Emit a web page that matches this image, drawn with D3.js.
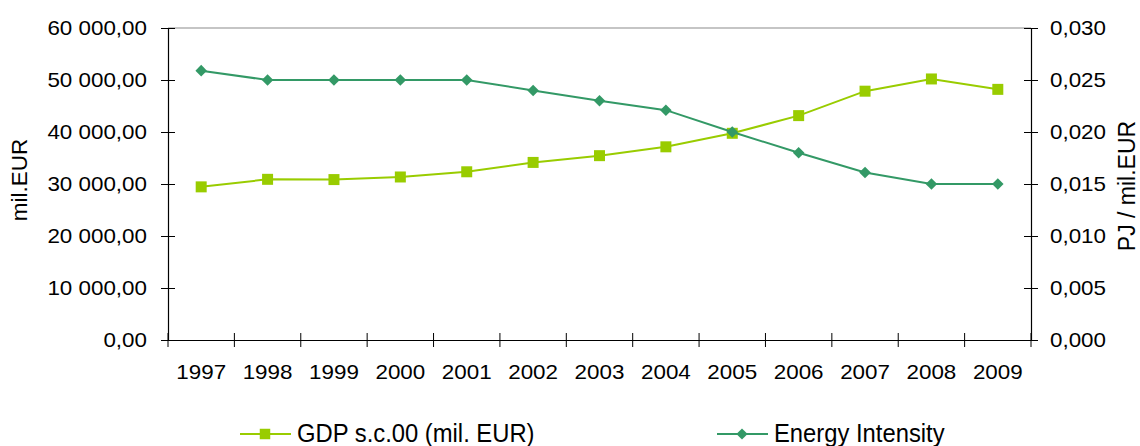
<!DOCTYPE html>
<html>
<head>
<meta charset="utf-8">
<script src="https://cdn.jsdelivr.net/npm/d3@7"></script>
<style>
  body { margin: 0; background: #fff; }
  text { font-family: "Liberation Sans", Arial, sans-serif; }
</style>
</head>
<body>
<script>
// data
const years = ["1997", "1998", "1999", "2000", "2001", "2002", "2003",
  "2004", "2005", "2006", "2007", "2008", "2009"];
const gdp = [29450, 30900, 30850, 31350, 32350, 34150, 35450,
  37150, 39750, 43150, 47850, 50200, 48200];
const intensity = [0.0259, 0.025, 0.025, 0.025, 0.025, 0.024, 0.023,
  0.0221, 0.020, 0.018, 0.0161, 0.015, 0.015];
const leftTicks = [0, 10000, 20000, 30000, 40000, 50000, 60000];
const rightTicks = [0, 0.005, 0.01, 0.015, 0.02, 0.025, 0.03];

const W = 1140, H = 446;
const plot = { left: 168, right: 1031, top: 28, bottom: 340 };
const gdpColor = "#99cc00";
const eiColor = "#339966";
const tickFont = 20;
const stretch = 1.12; // the reference glyphs are a bit wide

const loc = d3.formatLocale({ decimal: ",", thousands: " ", grouping: [3], currency: ["", ""] });
const fmtLeft = loc.format(",.2f");
const fmtRight = loc.format(".3f");

const svg = d3.select("body").append("svg")
  .attr("width", W)
  .attr("height", H);

const x = d3.scaleBand().domain(years).range([plot.left, plot.right]);
const yL = d3.scaleLinear().domain([0, 60000]).range([plot.bottom, plot.top]);
const yR = d3.scaleLinear().domain([0, 0.03]).range([plot.bottom, plot.top]);

// top border of the plot area
svg.append("line")
  .attr("x1", plot.left).attr("x2", plot.right)
  .attr("y1", plot.top).attr("y2", plot.top)
  .attr("stroke", "#8c8c8c").attr("stroke-width", 1.2);

// left axis
const axL = svg.append("g")
  .attr("transform", `translate(${plot.left},0)`)
  .call(d3.axisLeft(yL).tickValues(leftTicks).tickFormat(fmtLeft).tickSizeOuter(0).tickSize(7).tickPadding(14));
axL.selectAll(".tick line").attr("x1", 7).attr("x2", -7);

// right axis
const axR = svg.append("g")
  .attr("transform", `translate(${plot.right},0)`)
  .call(d3.axisRight(yR).tickValues(rightTicks).tickFormat(fmtRight).tickSizeOuter(0).tickSize(7).tickPadding(12));
axR.selectAll(".tick line").attr("x1", -7).attr("x2", 7);

// bottom axis: labels at band centres, ticks at band edges
const axB = svg.append("g")
  .attr("transform", `translate(0,${plot.bottom})`)
  .call(d3.axisBottom(x).tickSize(0).tickSizeOuter(0).tickPadding(25));
axB.selectAll(".tick line").remove();
const edges = d3.range(years.length + 1).map((i) => plot.left + i * x.step());
axB.selectAll("line.edge")
  .data(edges)
  .enter()
  .append("line")
  .attr("class", "edge")
  .attr("x1", (d) => d).attr("x2", (d) => d)
  .attr("y1", -7).attr("y2", 7)
  .attr("stroke", "#000");

[axL, axR, axB].forEach((g) => {
  g.select(".domain").attr("stroke", "#000").attr("stroke-width", 1.2);
  g.selectAll(".tick line").attr("stroke", "#000");
  g.selectAll("text")
    .attr("font-size", tickFont)
    .attr("fill", "#000")
    .each(function () {
      const t = d3.select(this);
      const tx = +t.attr("x") || 0;
      const ty = +t.attr("y") || 0;
      t.attr("x", 0).attr("y", 0)
        .attr("transform", `translate(${tx},${ty}) scale(${stretch},1)`);
    });
});

// axis titles
svg.append("text")
  .attr("transform", `translate(27,180) rotate(-90)`)
  .attr("text-anchor", "middle")
  .attr("font-size", 22.5)
  .text("mil.EUR");
svg.append("text")
  .attr("transform", `translate(1135,186) rotate(-90)`)
  .attr("text-anchor", "middle")
  .attr("font-size", 23)
  .text("PJ / mil.EUR");

const cx = (d, i) => x(years[i]) + x.bandwidth() / 2;

// GDP series
svg.append("path")
  .datum(gdp)
  .attr("fill", "none")
  .attr("stroke", gdpColor)
  .attr("stroke-width", 2)
  .attr("d", d3.line().x(cx).y((d) => yL(d)));
svg.append("g")
  .selectAll("path")
  .data(gdp)
  .enter()
  .append("path")
  .attr("d", d3.symbol().type(d3.symbolSquare).size(121))
  .attr("transform", (d, i) => `translate(${cx(d, i)},${yL(d)})`)
  .attr("fill", gdpColor);

// Energy intensity series
svg.append("path")
  .datum(intensity)
  .attr("fill", "none")
  .attr("stroke", eiColor)
  .attr("stroke-width", 2)
  .attr("d", d3.line().x(cx).y((d) => yR(d)));
svg.append("g")
  .selectAll("path")
  .data(intensity)
  .enter()
  .append("path")
  .attr("d", d3.symbol().type(d3.symbolDiamond2).size(85))
  .attr("transform", (d, i) => `translate(${cx(d, i)},${yR(d)})`)
  .attr("fill", eiColor);

// legend
const legendItems = [
  { name: "GDP s.c.00 (mil. EUR)", color: gdpColor, symbol: d3.symbolSquare, size: 110, x: 240 },
  { name: "Energy Intensity", color: eiColor, symbol: d3.symbolDiamond2, size: 80, x: 717 },
];
const legend = svg.append("g")
  .selectAll("g")
  .data(legendItems)
  .enter()
  .append("g")
  .attr("transform", (d) => `translate(${d.x},434)`);
legend.append("line")
  .attr("x1", 0).attr("x2", 51)
  .attr("stroke", (d) => d.color)
  .attr("stroke-width", 2);
legend.append("path")
  .attr("d", (d) => d3.symbol().type(d.symbol).size(d.size)())
  .attr("transform", "translate(25,0)")
  .attr("fill", (d) => d.color);
legend.append("text")
  .attr("transform", "translate(57,7.5) scale(1,1.06)")
  .attr("font-size", 23.8)
  .text((d) => d.name);
</script>
</body>
</html>
